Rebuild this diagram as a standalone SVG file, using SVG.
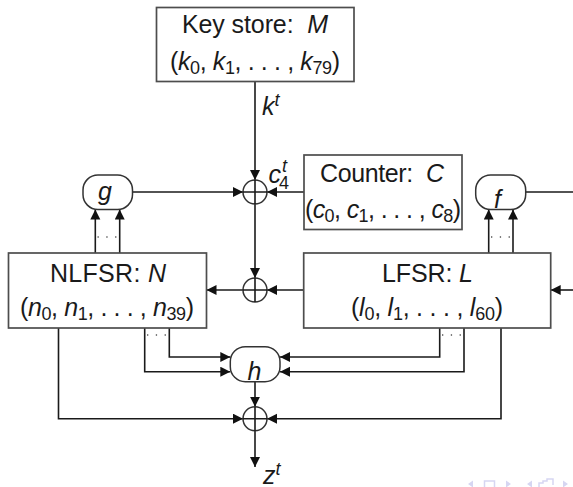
<svg xmlns="http://www.w3.org/2000/svg" width="573" height="487" viewBox="0 0 573 487">
<style>
text{font-family:"Liberation Sans",Arial,sans-serif;font-size:25px;fill:#1a1a1a}
.i{font-style:italic}
.s{font-size:18px}
.box{fill:#fff;stroke:#4d4d4d;stroke-width:1.7}
.fn{fill:#fff;stroke:#333;stroke-width:1.5}
.l{fill:none;stroke:#1a1a1a;stroke-width:1.6}
.a{marker-end:url(#ah)}
.d{fill:none;stroke:#555;stroke-width:1.3;stroke-dasharray:1.3 7.5}
.x{fill:#fff;stroke:#333;stroke-width:1.5}
.n{fill:#d6d6f2}
</style>
<defs>
<marker id="ah" markerUnits="userSpaceOnUse" markerWidth="12" markerHeight="12" refX="10" refY="5" orient="auto">
<path d="M0 0L10 5L0 10Z" fill="#111"/>
</marker>
</defs>
<g id="connectors">
<path class="l a" d="M255 81.500V180"/>
<path class="l" d="M255 180V204"/>
<path class="l a" d="M255 204V278"/>
<path class="l a" d="M132.500 192H243"/>
<path class="l a" d="M304 192H267"/>
<path class="l a" d="M303.700 290H267"/>
<path class="l a" d="M243 290H206.500"/>
<path class="l a" d="M573 290H550.700"/>
<path class="l" d="M525.700 192H573"/>
<path class="l a" d="M95.300 253V209.500"/>
<path class="l a" d="M119.700 253V209.500"/>
<path class="l a" d="M488.700 253V209.500"/>
<path class="l a" d="M513 253V209.500"/>
<path class="d" d="M97.500 237H118"/>
<path class="d" d="M491 237H512"/>
<path class="l a" d="M169.300 328V357H230.300"/>
<path class="l a" d="M144.700 328V371.700H230.300"/>
<path class="l a" d="M439.700 328V357H280"/>
<path class="l a" d="M464 328V371.700H280"/>
<path class="d" d="M147 335H168"/>
<path class="d" d="M442 335H463"/>
<path class="l a" d="M58.500 328V418.700H243"/>
<path class="l a" d="M501 328V418.700H267"/>
<path class="l a" d="M255 381.700V406.700"/>
<path class="l a" d="M255 418.700V467"/>
</g>
<g id="key-store">
<rect class="box" x="156.500" y="7.500" width="197.500" height="74"/>
<text x="182" y="33" xml:space="preserve" textLength="146">Key store:  <tspan class="i">M</tspan></text>
<text x="170" y="70" textLength="170">(<tspan class="i">k</tspan><tspan class="s" dy="4">0</tspan><tspan dy="-4">, </tspan><tspan class="i">k</tspan><tspan class="s" dy="4">1</tspan><tspan dy="-4">, . . . , </tspan><tspan class="i">k</tspan><tspan class="s" dy="4">79</tspan><tspan dy="-4">)</tspan></text>
</g>
<g id="counter">
<rect class="box" x="304" y="155" width="158" height="74.500"/>
<text x="320" y="182" xml:space="preserve" textLength="124">Counter:  <tspan class="i">C</tspan></text>
<text x="305" y="218" textLength="156">(<tspan class="i">c</tspan><tspan class="s" dy="4">0</tspan><tspan dy="-4">, </tspan><tspan class="i">c</tspan><tspan class="s" dy="4">1</tspan><tspan dy="-4">, . . . , </tspan><tspan class="i">c</tspan><tspan class="s" dy="4">8</tspan><tspan dy="-4">)</tspan></text>
</g>
<g id="nlfsr">
<rect class="box" x="8.500" y="253" width="198" height="75"/>
<text x="50" y="282" textLength="116">NLFSR: <tspan class="i">N</tspan></text>
<text x="20" y="316" textLength="174">(<tspan class="i">n</tspan><tspan class="s" dy="4">0</tspan><tspan dy="-4">, </tspan><tspan class="i">n</tspan><tspan class="s" dy="4">1</tspan><tspan dy="-4">, . . . , </tspan><tspan class="i">n</tspan><tspan class="s" dy="4">39</tspan><tspan dy="-4">)</tspan></text>
</g>
<g id="lfsr">
<rect class="box" x="303.700" y="253" width="247" height="75"/>
<text x="382" y="282" textLength="91">LFSR: <tspan class="i">L</tspan></text>
<text x="351" y="316" textLength="152">(<tspan class="i">l</tspan><tspan class="s" dy="4">0</tspan><tspan dy="-4">, </tspan><tspan class="i">l</tspan><tspan class="s" dy="4">1</tspan><tspan dy="-4">, . . . , </tspan><tspan class="i">l</tspan><tspan class="s" dy="4">60</tspan><tspan dy="-4">)</tspan></text>
</g>
<g id="g"><rect class="fn" x="83" y="175" width="49.500" height="34.500" rx="15"/><text class="i" x="98" y="200">g</text></g>
<g id="f"><rect class="fn" x="475.700" y="175" width="50" height="34.500" rx="15"/><text class="i" x="494" y="208">f</text></g>
<g id="h"><rect class="fn" x="230.300" y="346.700" width="49.700" height="35" rx="15"/><text class="i" x="247.500" y="380">h</text></g>
<g id="xor1"><circle class="x" cx="255" cy="192" r="12"/><path class="l" d="M243 192H267M255 180V204"/></g>
<g id="xor2"><circle class="x" cx="255" cy="290" r="12"/><path class="l" d="M243 290H267M255 278V302"/></g>
<g id="xor3"><circle class="x" cx="255" cy="418.700" r="12"/><path class="l" d="M243 418.700H267M255 406.700V430.700"/></g>
<g id="labels">
<text class="i" x="262" y="115">k<tspan class="s" dy="-9">t</tspan></text>
<text class="i" x="268.500" y="183">c<tspan class="s" dx="1" dy="-11">t</tspan><tspan class="s" style="font-style:normal" dx="-8" dy="17">4</tspan></text>
<text class="i" x="263" y="484">z<tspan class="s" dy="-9">t</tspan></text>
</g>
<g id="nav">
<path class="n" d="M468 484L473 480.500V487.500ZM506 480.500L511 484L506 487.500ZM527 484L532 480.500V487.500ZM563 480.500L568 484L563 487.500Z"/>
<path d="M484.500 487V481H494.500V487" fill="none" stroke="#d6d6f2" stroke-width="1.500"/>
<path d="M539 487V483H543V481H547V479H553V485" fill="none" stroke="#d6d6f2" stroke-width="1.500"/>
</g>
</svg>
